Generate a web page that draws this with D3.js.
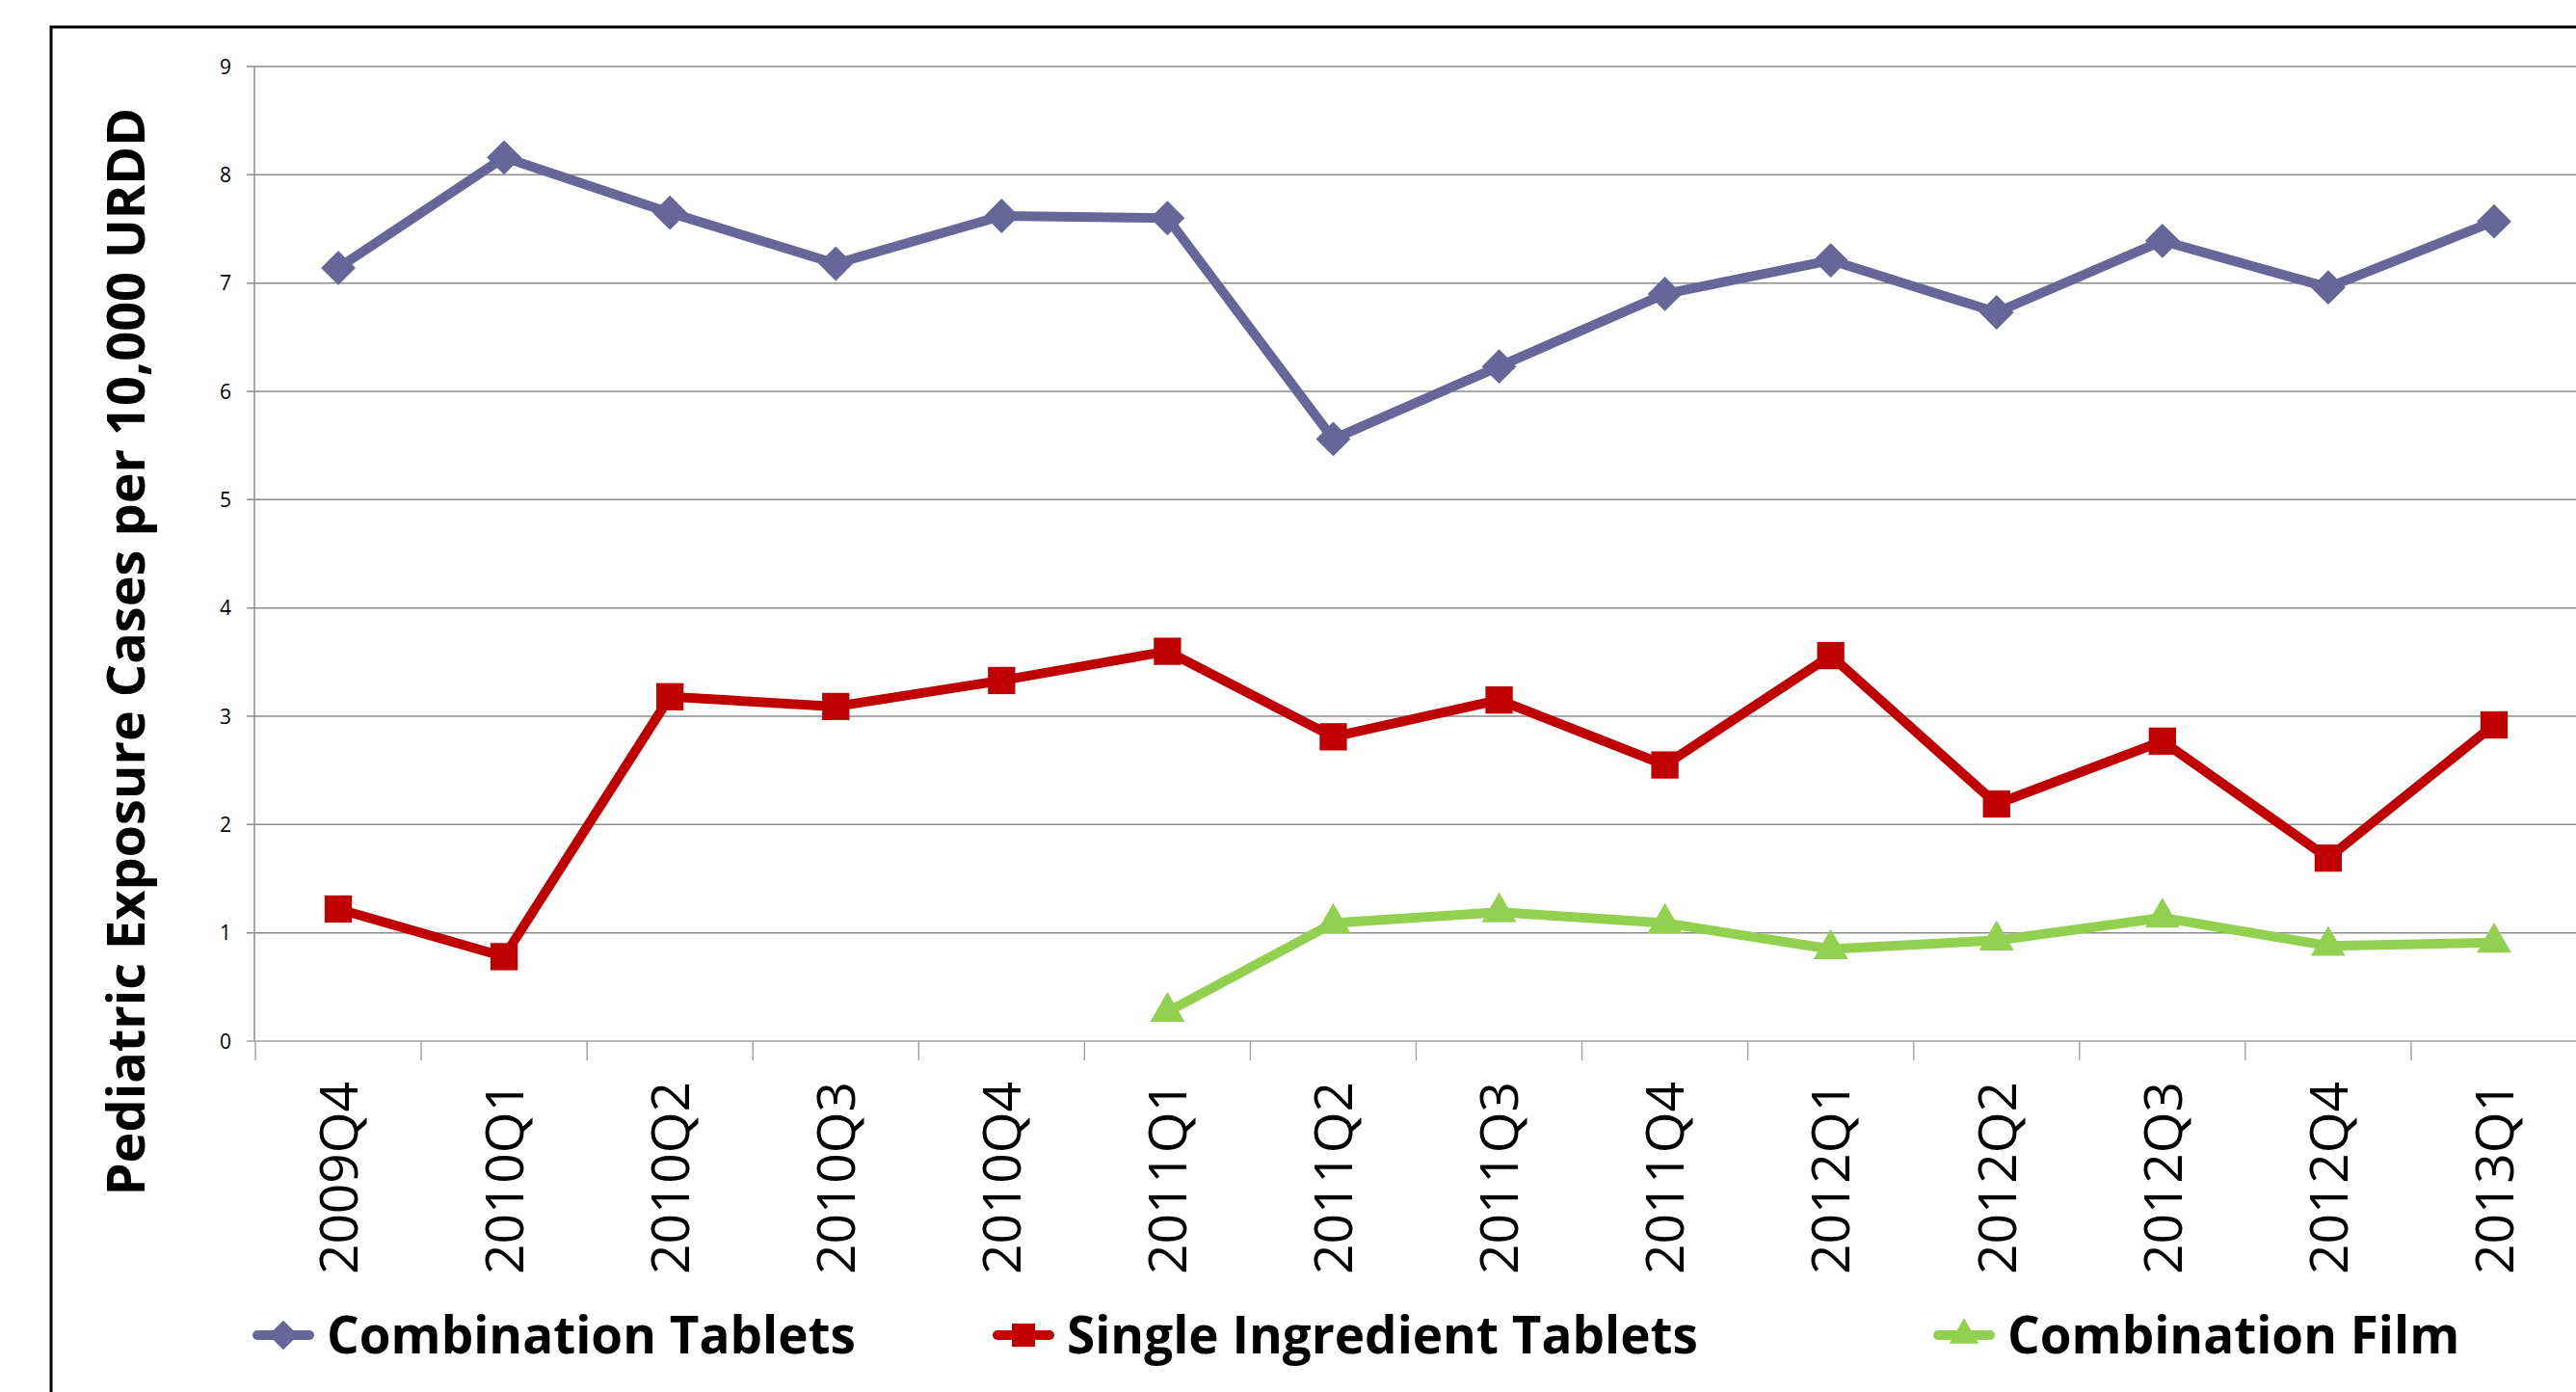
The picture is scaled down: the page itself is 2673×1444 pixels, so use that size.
<!DOCTYPE html>
<html>
<head>
<meta charset="utf-8">
<script src="https://cdn.jsdelivr.net/npm/d3@7"></script>
<style>
  body { margin: 0; background: #fff; }
  svg { display: block; font-family: "Open Sans", sans-serif; }
</style>
</head>
<body>
<svg width="2673" height="1444"></svg>
<script>
var quarters = ["2009Q4", "2010Q1", "2010Q2", "2010Q3", "2010Q4", "2011Q1", "2011Q2",
                "2011Q3", "2011Q4", "2012Q1", "2012Q2", "2012Q3", "2012Q4", "2013Q1"];
var comboTablets = [7.14, 8.16, 7.65, 7.18, 7.62, 7.60, 5.56, 6.23, 6.90, 7.21, 6.73, 7.39, 6.96, 7.57];
var singleTablets = [1.22, 0.78, 3.18, 3.09, 3.33, 3.60, 2.81, 3.15, 2.55, 3.56, 2.19, 2.77, 1.69, 2.92];
var comboFilm = [null, null, null, null, null, 0.27, 1.09, 1.19, 1.09, 0.85, 0.93, 1.14, 0.88, 0.91];
var yTicks = [0, 1, 2, 3, 4, 5, 6, 7, 8, 9];
var seriesNames = ["Combination Tablets", "Single Ingredient Tablets", "Combination Film"];

var series = [
  {name: seriesNames[0], values: comboTablets, color: "#666699", marker: "diamond"},
  {name: seriesNames[1], values: singleTablets, color: "#c00000", marker: "square"},
  {name: seriesNames[2], values: comboFilm, color: "#92d050", marker: "triangle"}
];

var svg = d3.select("svg");

// outer frame (runs off the right and bottom edges)
svg.append("rect")
  .attr("x", 53).attr("y", 28)
  .attr("width", 2800).attr("height", 1600)
  .style("fill", "none").style("stroke", "#000").style("stroke-width", 3);

var x = d3.scaleBand().domain(quarters).range([265, 2674]).padding(0);
var y = d3.scaleLinear().domain([0, 9]).range([1080, 69]);

// gridlines
svg.append("g").selectAll("line")
  .data(yTicks)
  .enter().append("line")
  .attr("x1", 256).attr("x2", 2674)
  .attr("y1", function(d) { return y(d); })
  .attr("y2", function(d) { return y(d); })
  .style("stroke", function(d) { return d == 0 ? "#a6a6a6" : "#8c8c8c"; })
  .style("stroke-width", 1.5);

// y axis line
svg.append("line")
  .attr("x1", 264).attr("x2", 264)
  .attr("y1", y(9)).attr("y2", y(0))
  .style("stroke", "#8c8c8c").style("stroke-width", 1.5);

// y tick labels
svg.append("g").selectAll("text")
  .data(yTicks)
  .enter().append("text")
  .attr("x", 240)
  .attr("y", function(d) { return y(d); })
  .attr("dy", "0.36em")
  .attr("text-anchor", "end")
  .style("font-size", "21px")
  .text(function(d) { return d; });

// x category ticks at band edges
var edges = quarters.map(function(q) { return x(q); });
svg.append("g").selectAll("line")
  .data(edges)
  .enter().append("line")
  .attr("x1", function(d) { return d; })
  .attr("x2", function(d) { return d; })
  .attr("y1", y(0)).attr("y2", y(0) + 20)
  .style("stroke", "#a6a6a6").style("stroke-width", 1.5);

// x labels, rotated
svg.append("g").selectAll("text")
  .data(quarters)
  .enter().append("text")
  .attr("transform", function(d) {
    return "translate(" + (x(d) + x.bandwidth() / 2) + "," + 1122 + ") rotate(-90)";
  })
  .attr("dy", "0.36em")
  .attr("text-anchor", "end")
  .style("font-size", "55px")
  .text(function(d) { return d; });

// y title
svg.append("text")
  .attr("transform", "translate(131,676) rotate(-90)")
  .attr("dy", "0.36em")
  .attr("text-anchor", "middle")
  .style("font-size", "54px")
  .style("font-weight", "bold")
  .text("Pediatric Exposure Cases per 10,000 URDD");

function markerPath(type) {
  if (type == "diamond") return d3.symbol().type(d3.symbolDiamond2).size(820)();
  if (type == "square") return d3.symbol().type(d3.symbolSquare).size(800)();
  return d3.symbol().type(d3.symbolTriangle).size(560)();
}

var line = d3.line()
  .defined(function(d) { return d != null; })
  .x(function(d, i) { return x(quarters[i]) + x.bandwidth() / 2; })
  .y(function(d) { return y(d); });

series.forEach(function(s) {
  svg.append("path")
    .datum(s.values)
    .attr("d", line)
    .style("fill", "none")
    .style("stroke", s.color)
    .style("stroke-width", 10)
    .style("stroke-linejoin", "round");

  svg.append("g").selectAll("path")
    .data(s.values.map(function(v, i) { return {v: v, q: quarters[i]}; })
      .filter(function(d) { return d.v != null; }))
    .enter().append("path")
    .attr("transform", function(d) {
      return "translate(" + (x(d.q) + x.bandwidth() / 2) + "," + y(d.v) + ")";
    })
    .attr("d", markerPath(s.marker))
    .style("fill", s.color);
});

// legend
var legendX = [267, 1035, 2011];
var legend = svg.append("g").selectAll("g")
  .data(series)
  .enter().append("g")
  .attr("transform", function(d, i) { return "translate(" + legendX[i] + ",1385)"; });

legend.append("line")
  .attr("x1", 0).attr("x2", 54)
  .style("stroke", function(d) { return d.color; })
  .style("stroke-width", 10)
  .style("stroke-linecap", "round");

legend.append("path")
  .attr("transform", "translate(27,0) scale(0.85)")
  .attr("d", function(d) { return markerPath(d.marker); })
  .style("fill", function(d) { return d.color; });

legend.append("text")
  .attr("x", 72)
  .attr("dy", "0.36em")
  .style("font-size", "53px")
  .style("font-weight", "bold")
  .text(function(d) { return d.name; });
</script>
</body>
</html>
